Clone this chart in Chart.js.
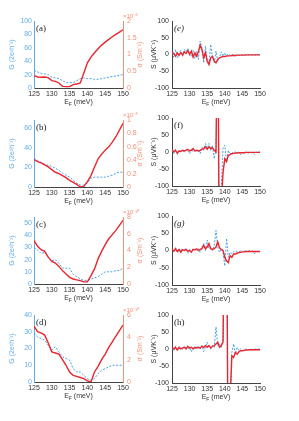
<!DOCTYPE html>
<html><head><meta charset="utf-8">
<script src="https://cdn.jsdelivr.net/npm/chart.js@4"></script>
<style>
html,body{margin:0;padding:0;background:#fff;width:299px;height:421px;overflow:hidden;}
canvas{position:absolute;}
</style></head><body>
<script>
// ---- data ----
const E_G = [125,126,127,128,129,130,131,132,133,134,135,136,137,138,139,140,141,142,143,144,145,146,147,148,149,150];
const E_S = [125,125.5,126,126.5,127,127.5,128,128.5,129,129.5,130,130.5,131,131.5,132,132.5,133,133.5,134,134.5,135,135.5,136,136.5,137,137.5,138,138.5,139,139.5,140,140.5,141,141.5,142,142.5,143,143.5,144,144.5,145,145.5,146,146.5,147,147.5,148,148.5,149,149.5,150];
const X_TICKS = [125,130,135,140,145,150];
const S_TICKS = [-100,-50,0,50,100];

// conductance G (2e^2/h), blue dashed
const G_a = [26,24,22,21,20,16,15,14,11,8,8,8,11,14,15,14,14,13,13,14,15,16,17,18,19,20];
const G_b = [29,27,25,23,22,21,19,17,14,12,10,7,4,2,2,4,9,10,10,10,10,11,12,14,15,15];
const G_c = [30,28,25,26,22,19,20,17,13,13,13,8,6,4,3,3,4,5,6,8,10,10,10,11,11,13];
const G_d = [29,27,26,25,22,19,21,18,15,14,13,8,6,6,4,2,1,2,5,7,8,9,10,10,10,10];
// conductivity sigma, red solid
const SIG_a = [0.37,0.33,0.32,0.33,0.31,0.22,0.2,0.15,0.05,0.04,0.04,0.1,0.12,0.15,0.45,0.75,0.92,1.05,1.17,1.28,1.37,1.45,1.53,1.6,1.67,1.74];
const SIG_b = [0.41,0.38,0.36,0.33,0.3,0.26,0.22,0.2,0.17,0.14,0.1,0.07,0.04,0.0,0.01,0.08,0.17,0.3,0.42,0.49,0.55,0.6,0.67,0.75,0.85,0.95];
const SIG_c = [5.2,4.5,4.1,3.9,3.2,2.7,2.5,2.1,1.6,1.2,0.8,0.6,0.5,0.4,0.25,0.25,1.0,1.8,3.0,3.9,4.7,5.4,5.9,6.4,7.0,7.6];
const SIG_d = [5.0,4.5,4.4,4.2,3.5,2.7,2.6,2.5,2.0,1.5,0.9,0.6,0.5,0.4,0.3,0.1,0.0,0.9,1.4,2.0,2.5,3.1,3.6,4.1,4.6,5.1];
// left/right tick values
const GT_a = [0,20,40,60,80,100], ST_a = [0,0.5,1,1.5,2];
const GT_b = [0,20,40,60],        ST_b = [0,0.2,0.4,0.6,0.8,1];
const GT_c = [0,10,20,30,40,50],  ST_c = [0,2,4,6,8];
const GT_d = [0,10,20,30,40],     ST_d = [0,2,4,6];

// Seebeck S (uV/K)
const Se_blue = [5,-8,15,-10,5,12,-5,15,8,18,3,-5,12,-12,10,-15,40,20,-25,25,-15,-25,30,-10,-25,10,-20,-8,8,-5,5,-5,2,-3,0,-2,-5,0,-3,-2,0,-3,-1,-3,0,-2,0,-2,0,-1,0];
const Se_red  = [8,2,-5,5,-3,6,-2,8,3,12,0,10,-8,5,-5,8,28,15,-10,5,-20,-30,-10,-5,-20,-25,-15,-10,-8,-6,-6,-5,-4,-4,-3,-3,-3,-2,-2,-2,-2,-2,-1,-1,-1,-1,-1,-1,-1,-1,-1];
const Sf_blue = [5,-5,8,-8,5,0,5,0,8,3,-5,10,0,5,3,8,-5,15,5,25,10,25,5,20,-20,10,300,-300,-100,10,20,-30,5,-8,0,-5,0,-3,0,-8,-2,-3,0,-5,0,-2,-3,-8,0,0,0];
const Sf_red  = [8,0,5,-3,3,2,5,3,5,8,3,5,10,3,5,3,5,8,10,15,8,15,10,12,5,0,500,-500,-150,-60,-20,-28,-10,-8,-5,-4,-3,-3,-2,-2,-2,-2,-1,-1,-1,-1,-1,-1,-1,-1,-1];
const Sg_blue = [5,-3,8,0,-5,5,0,3,5,-8,3,0,5,3,0,5,-5,10,20,0,30,5,10,0,15,58,10,-5,5,-5,-45,35,-20,-5,-10,-3,-5,-3,-5,0,-3,0,-2,-3,0,-3,-2,-10,-2,-3,-3];
const Sg_red  = [3,-2,5,-3,3,-5,2,0,3,-2,0,-5,3,2,5,0,3,5,15,5,10,20,5,3,5,10,25,8,3,0,-20,-30,-35,-15,-20,-10,-10,-8,-6,-5,-4,-4,-3,-3,-3,-3,-3,-3,-3,-3,-3];
const Sh_blue = [3,-5,8,-3,0,5,-2,8,3,0,5,-8,5,0,8,3,0,10,-8,5,20,5,0,10,5,65,10,15,5,30,400,300,-400,-200,-10,15,-15,5,-5,0,-5,-2,0,-3,-2,0,-3,0,0,0,-1];
const Sh_red  = [5,0,5,-3,5,0,3,5,0,8,3,5,0,5,3,5,3,8,5,10,5,10,3,8,10,15,20,5,10,20,500,500,-500,-150,-20,-25,-10,-15,-8,-5,-5,-4,-3,-3,-2,-2,-2,-2,-2,-2,-2];

// ---- styles ----
const BLUE = '#4a9fe0', RED = '#e8262e', BLUE_AX = '#62ace6', RED_AX = '#f0927a', GREY = '#444';
const FONT = '"Liberation Sans", Arial, sans-serif';

function makeCanvas(left, top, w, h){
  const c = document.createElement('canvas');
  c.width = w; c.height = h;
  c.style.left = left+'px'; c.style.top = top+'px';
  c.style.width = w+'px'; c.style.height = h+'px';
  document.body.appendChild(c);
  return c;
}

function rotText(ctx, txt, x, y, color){
  ctx.save();
  ctx.translate(x, y); ctx.rotate(-Math.PI/2);
  ctx.fillStyle = color; ctx.textAlign = 'center'; ctx.textBaseline = 'middle';
  ctx.fillText(txt, 0, 0);
  ctx.restore();
}

const extras = {
  id: 'extras',
  afterDraw(chart, args, o){
    const ctx = chart.ctx, a = chart.chartArea;
    ctx.save();
    // panel letter
    ctx.font = (o.italic ? 'italic ' : '') + '9px "Liberation Serif", "DejaVu Serif", serif';
    ctx.fillStyle = '#222'; ctx.textAlign = 'left'; ctx.textBaseline = 'top';
    ctx.fillText(o.letter, a.left + 2, a.top + 3);
    // x title E_F (meV)
    const big = '7px ' + FONT, small = '5px ' + FONT;
    ctx.font = big; const wE = ctx.measureText('E').width, wR = ctx.measureText(' (meV)').width;
    ctx.font = small; const wF = ctx.measureText('F').width;
    let x = (a.left + a.right)/2 - (wE + wF + wR)/2;
    const yb = a.bottom + 16;
    ctx.fillStyle = '#333'; ctx.textBaseline = 'alphabetic';
    ctx.font = big; ctx.fillText('E', x, yb); x += wE;
    ctx.font = small; ctx.fillText('F', x, yb + 1.5); x += wF;
    ctx.font = big; ctx.fillText(' (meV)', x, yb);
    const mid = (a.top + a.bottom)/2;
    ctx.font = '7px ' + FONT;
    if (o.kind === 'G'){
      rotText(ctx, 'G (2e\u00b2h\u207b\u00b9)', a.left - 22, mid, BLUE_AX);
      rotText(ctx, '\u03c3 (Sm\u207b\u00b9)', a.right + 17.5, mid, RED_AX);
      ctx.font = '6px ' + FONT; ctx.fillStyle = RED_AX; ctx.textAlign = 'left';
      ctx.fillText(o.exp, a.right, a.top - 3);
    } else {
      rotText(ctx, 'S (\u03bcVK\u207b\u00b9)', a.left - 18, mid, '#333');
    }
    ctx.restore();
  }
};

function pts(xs, ys){ return xs.map((x,i)=>({x:x, y:ys[i]})); }
function setTicks(arr){ return s => { s.ticks = arr.map(v=>({value:v})); }; }
const tickFont = {size:7, family:FONT};

function leftPanel(p){
  const T = 16, B = 24, h = T + (p.bottom - p.top) + B;
  const c = makeCanvas(0, p.top - T, 149, h);
  new Chart(c, {
    type: 'line',
    data: { datasets: [
      {data: pts(E_G, p.sig), yAxisID:'y2', borderColor:RED, borderWidth:1.4, pointRadius:0, fill:false},
      {data: pts(E_G, p.g), yAxisID:'y', borderColor:BLUE, borderWidth:1, borderDash:[2,1.5], pointRadius:0, fill:false}
    ]},
    options: {
      responsive:false, animation:false, devicePixelRatio:1,
      layout:{padding:{top:T, left:0, right:0, bottom:0}},
      plugins:{legend:{display:false}, tooltip:{enabled:false},
        extras:{letter:p.letter, italic:p.italic, kind:'G', exp:p.exp}},
      scales:{
        x:{type:'linear', min:125, max:150, afterBuildTicks:setTicks(X_TICKS), afterFit:s=>{s.height=B;},
           grid:{display:false, drawTicks:false}, border:{color:GREY, width:1},
           ticks:{font:tickFont, color:'#333', padding:2, maxRotation:0, autoSkip:false, callback:v=>String(v)}},
        y:{position:'left', min:0, max:p.gmax, afterBuildTicks:setTicks(p.gt), afterFit:s=>{s.width=34;},
           grid:{display:false, drawTicks:false}, border:{color:BLUE_AX, width:1},
           ticks:{font:tickFont, color:BLUE_AX, padding:2, callback:v=>String(v)}},
        y2:{position:'right', min:0, max:p.smax, afterBuildTicks:setTicks(p.st), afterFit:s=>{s.width=26;},
           grid:{display:false, drawTicks:false}, border:{color:RED_AX, width:1},
           ticks:{font:tickFont, color:RED_AX, padding:4, callback:v=>String(v)}}
      }
    },
    plugins:[extras]
  });
}

function rightPanel(p){
  const T = 16, B = 24, h = T + (p.bottom - p.top) + B;
  const c = makeCanvas(147, p.top - T, 125, h);
  new Chart(c, {
    type: 'line',
    data: { datasets: [
      {data: pts(E_S, p.red), borderColor:RED, borderWidth:1.4, pointRadius:0, fill:false},
      {data: pts(E_S, p.blue), borderColor:BLUE, borderWidth:1, borderDash:[2,1.5], pointRadius:0, fill:false}
    ]},
    options: {
      responsive:false, animation:false, devicePixelRatio:1,
      layout:{padding:{top:T, left:0, right:12, bottom:0}},
      plugins:{legend:{display:false}, tooltip:{enabled:false},
        extras:{letter:p.letter, italic:p.italic, kind:'S'}},
      scales:{
        x:{type:'linear', min:125, max:150, afterBuildTicks:setTicks(X_TICKS), afterFit:s=>{s.height=B;},
           grid:{display:false, drawTicks:false}, border:{color:GREY, width:1},
           ticks:{font:tickFont, color:'#333', padding:2, maxRotation:0, autoSkip:false, callback:v=>String(v)}},
        y:{position:'left', min:-100, max:100, afterBuildTicks:setTicks(S_TICKS), afterFit:s=>{s.width=25;},
           grid:{display:false, drawTicks:false}, border:{color:GREY, width:1},
           ticks:{font:tickFont, color:'#333', padding:3, callback:v=>String(v)}}
      }
    },
    plugins:[extras]
  });
}

leftPanel({top:21, bottom:88, g:G_a, sig:SIG_a, gmax:100, smax:2, gt:GT_a, st:ST_a, letter:'(a)', exp:'\u00d710\u207b\u2078'});
leftPanel({top:120, bottom:187, g:G_b, sig:SIG_b, gmax:68, smax:1, gt:GT_b, st:ST_b, letter:'(b)', exp:'\u00d710\u207b\u2078'});
leftPanel({top:217, bottom:284, g:G_c, sig:SIG_c, gmax:55, smax:8, gt:GT_c, st:ST_c, letter:'(c)', exp:'\u00d710\u207b\u00b9\u2070'});
leftPanel({top:315, bottom:382, g:G_d, sig:SIG_d, gmax:40, smax:6, gt:GT_d, st:ST_d, letter:'(d)', exp:'\u00d710\u207b\u00b9\u2070'});
rightPanel({top:21, bottom:88, blue:Se_blue, red:Se_red, letter:'(e)', italic:true});
rightPanel({top:118, bottom:186, blue:Sf_blue, red:Sf_red, letter:'(f)'});
rightPanel({top:216, bottom:285, blue:Sg_blue, red:Sg_red, letter:'(g)', italic:true});
rightPanel({top:315, bottom:383, blue:Sh_blue, red:Sh_red, letter:'(h)'});
</script>
</body></html>
